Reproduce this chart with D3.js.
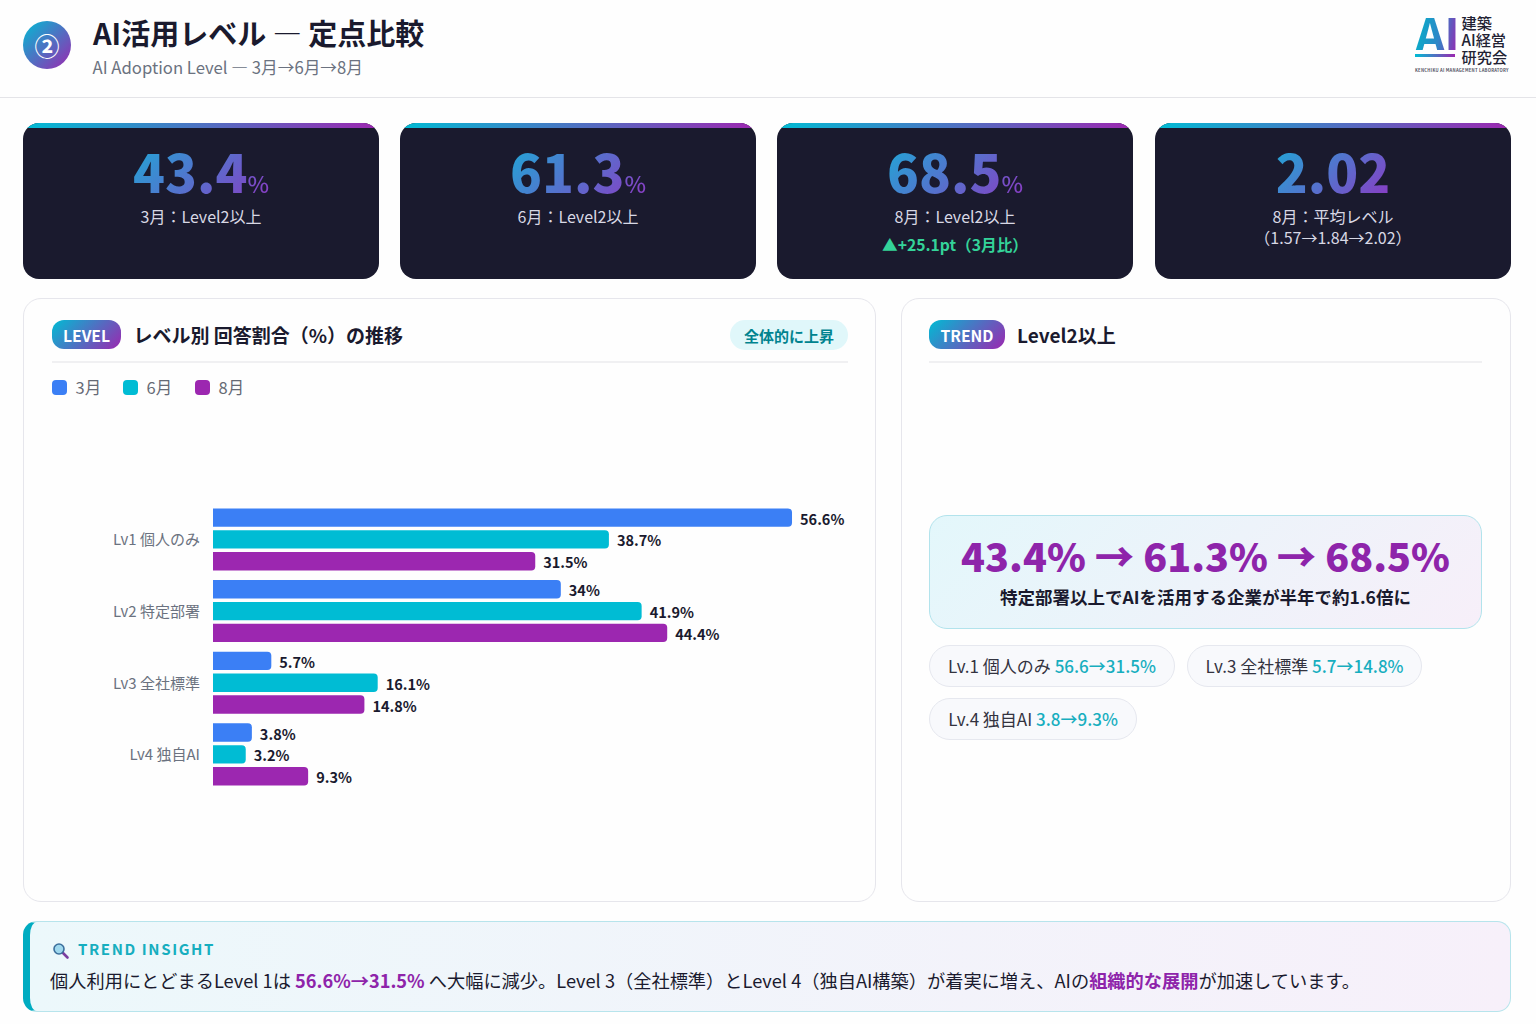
<!DOCTYPE html>
<html lang="ja">
<head>
<meta charset="utf-8">
<title>AI活用レベル</title>
<script src="https://cdn.jsdelivr.net/npm/d3@7"></script>
<style>
  html, body { margin: 0; padding: 0; background: #fefefe; }
  body { width: 1536px; height: 1024px; position: relative; overflow: hidden;
         font-family: "Noto Sans CJK JP", "Noto Sans", sans-serif; color: #1a1a2e; }
  .abs { position: absolute; white-space: nowrap; }
  .ctr { transform: translate(-50%, -50%); line-height: 1; }
  .mid { transform: translateY(-50%); line-height: 1; }

  /* header */
  #headerLine { position: absolute; left: 0; top: 97px; width: 1536px; height: 1px; background: #e4e4e8; }
  #badge { left: 23px; top: 21px; width: 48px; height: 48px; border-radius: 50%;
           background: linear-gradient(135deg, #00bcd4, #9c27b0); color: #fff;
           font-size: 25px; font-weight: 700; line-height: 48px; text-align: center; }
  #title { left: 93px; top: 32px; font-size: 29px; font-weight: 700; color: #1a1a2e; }
  #subtitle { left: 92.5px; top: 66.5px; font-size: 16.7px; color: #6b7280; }

  /* kpi cards */
  .card { position: absolute; top: 123px; height: 156px; border-radius: 16px; background: #1a1a2e; overflow: hidden; }
  .card .strip { position: absolute; left: 0; top: 0; right: 0; height: 5px; background: linear-gradient(90deg, #00bcd4, #9c27b0); }
  .card .num { position: absolute; left: 0; right: 0; top: 20px; text-align: center; line-height: 54px; height: 54px; font-size: 52.5px; font-weight: 900; }
  .card .num span { display: inline-block; line-height: 54px; height: 54px; background: linear-gradient(135deg, #1fa8d6, #8a3cc4); -webkit-background-clip: text; background-clip: text; color: transparent; }
  .card .num small { font-size: 23px; font-weight: 500; }
  .card .lab { position: absolute; left: 0; right: 0; text-align: center; font-size: 16px; line-height: 21px; color: #d8d8e4; }
  .card .up { position: absolute; left: 0; right: 0; top: 111px; text-align: center; font-size: 15.7px; line-height: 21px; font-weight: 700; color: #34d399; }

  /* panels */
  .panel { position: absolute; top: 298px; height: 604px; box-sizing: border-box; border: 1px solid #e6e6ec; border-radius: 18px; background: #fefefe; }
  .rule { position: absolute; top: 361px; height: 2px; background: #f0f0f2; }
  .tag { position: absolute; top: 320px; height: 29px; border-radius: 12px; background: linear-gradient(135deg, #00bcd4, #9c27b0);
         color: #fff; font-size: 15.7px; font-weight: 700; line-height: 31px; text-align: center; }
  .panelTitle { font-size: 19px; font-weight: 700; color: #1a1a2e; }
  #riseBadge { left: 730px; top: 320px; width: 118px; height: 30px; border-radius: 15px; background: #e0f7fa; color: #00838f;
               font-size: 15px; font-weight: 700; line-height: 32px; text-align: center; }

  /* right panel */
  #bigBox { left: 929px; top: 515px; width: 553px; height: 114px; box-sizing: border-box; border: 1px solid #b2e3ec; border-radius: 18px;
            background: linear-gradient(135deg, #e3f7fb, #f7eff9); }
  #bigText { left: 1205.5px; top: 555px; font-size: 39.4px; font-weight: 900; color: #8e24aa; }
  #bigSub { left: 1205.5px; top: 597px; font-size: 17.5px; font-weight: 700; color: #1a1a2e; }
  .chip { position: absolute; height: 42px; box-sizing: border-box; border: 1px solid #e6e8ef; border-radius: 21px; background: #f8f9fc;
          font-size: 17px; line-height: 39px; color: #33333f; text-align: center; white-space: nowrap; }
  .chip b { font-weight: 500; color: #17aebf; }

  /* insight */
  #insight { left: 23px; top: 921px; width: 1488px; height: 91px; box-sizing: border-box; border: 1px solid #b7e4ec; border-left: 7px solid #00acc1;
             border-radius: 14px; background: linear-gradient(90deg, #ecf8fb, #f7f0fa); }
  #insightHead { left: 78px; top: 947.5px; font-size: 15px; font-weight: 700; letter-spacing: 1.6px; color: #17aebf; }
  #insightBody { left: 50px; top: 980px; font-size: 18.23px; color: #1a1a2e; }
  #insightBody b { font-weight: 700; color: #8e24aa; }

  /* logo */
  #logoAI { left: 1415px; top: 33px; font-size: 47px; font-weight: 700; letter-spacing: -1px; height: 34px; line-height: 34px;
            background: linear-gradient(100deg, #00b4c8, #2f86c8 55%, #a020b0); -webkit-background-clip: text; background-clip: text; color: transparent; }
  #logoBar { position: absolute; left: 1415px; top: 54px; width: 40px; height: 2.5px; background: linear-gradient(90deg, #00bcd4, #9c27b0); }
  .logoLine { left: 1461.5px; font-size: 15.2px; font-weight: 500; color: #222233; }
  #logoSmall { left: 1415px; top: 70px; font-size: 4.2px; font-weight: 700; letter-spacing: .25px; color: #555566; }

  #chart { position: absolute; left: 0; top: 0; }
  #chart .tick text { font-family: "Noto Sans CJK JP", sans-serif; font-size: 15px; fill: #6b7280; }
  #chart .value { font-family: "Noto Sans CJK JP", sans-serif; font-size: 14.5px; font-weight: 700; fill: #1a1a2e; }
</style>
</head>
<body>
<div id="headerLine"></div>
<div id="badge" class="abs">②</div>
<div id="title" class="abs mid">AI活用レベル — 定点比較</div>
<div id="subtitle" class="abs mid">AI Adoption Level — 3月→6月→8月</div>

<div id="logoAI" class="abs mid">AI</div>
<div id="logoBar"></div>
<div class="abs mid logoLine" style="top:23px">建築</div>
<div class="abs mid logoLine" style="top:40px">AI経営</div>
<div class="abs mid logoLine" style="top:57px">研究会</div>
<div id="logoSmall" class="abs mid">KENCHIKU AI MANAGEMENT LABORATORY</div>

<div id="cards"></div>

<div class="panel" style="left:23px;width:853px"></div>
<div class="panel" style="left:901px;width:610px"></div>
<div class="rule" style="left:52px;width:796px"></div>
<div class="rule" style="left:929px;width:553px"></div>
<div class="tag" style="left:52px;width:69px">LEVEL</div>
<div class="abs mid panelTitle" style="left:133.5px;top:333.5px">レベル別 回答割合（%）の推移</div>
<div id="riseBadge" class="abs">全体的に上昇</div>
<div class="tag" style="left:929px;width:76px">TREND</div>
<div class="abs mid panelTitle" style="left:1017px;top:333.5px">Level2以上</div>

<svg id="chart" width="1536" height="1024"></svg>

<div id="bigBox" class="abs"></div>
<div id="bigText" class="abs ctr">43.4% → 61.3% → 68.5%</div>
<div id="bigSub" class="abs ctr">特定部署以上でAIを活用する企業が半年で約1.6倍に</div>
<div id="chips"></div>

<div id="insight" class="abs"></div>
<svg class="abs" style="left:52px;top:942px" width="18" height="18" viewBox="0 0 18 18">
  <line x1="10.5" y1="10.5" x2="15.5" y2="15.5" stroke="#7b3fa0" stroke-width="2.6" stroke-linecap="round"/>
  <circle cx="7" cy="7" r="5" fill="#9fd8ee" stroke="#3c6f9c" stroke-width="1.6"/>
</svg>
<div id="insightHead" class="abs mid">TREND INSIGHT</div>
<div id="insightBody" class="abs mid">個人利用にとどまるLevel 1は <b>56.6%→31.5%</b> へ大幅に減少。Level 3（全社標準）とLevel 4（独自AI構築）が着実に増え、AIの<b>組織的な展開</b>が加速しています。</div>

<script>
// chart data
const categories = ['Lv1 個人のみ', 'Lv2 特定部署', 'Lv3 全社標準', 'Lv4 独自AI'];
const months = ['3月', '6月', '8月'];
const march = [56.6, 34, 5.7, 3.8];
const june = [38.7, 41.9, 16.1, 3.2];
const august = [31.5, 44.4, 14.8, 9.3];
const monthColors = ['#3b7ff5', '#00bcd4', '#9c27b0'];

// kpi cards
const kpiValues = ['43.4', '61.3', '68.5', '2.02'];
const kpiUnits = ['%', '%', '%', ''];
const kpiLabels = [['3月：Level2以上'], ['6月：Level2以上'], ['8月：Level2以上'], ['8月：平均レベル', '（1.57→1.84→2.02）']];
const kpiLefts = [23, 400, 777, 1155];
const kpiNote = '▲+25.1pt（3月比）';

// chips under the big number
const chipLabels = ['Lv.1 個人のみ', 'Lv.3 全社標準', 'Lv.4 独自AI'];
const chipValues = ['56.6→31.5%', '5.7→14.8%', '3.8→9.3%'];
const chipBoxes = [[929, 645, 246], [1187, 645, 235], [929, 698, 208]];

// cards
const cards = d3.select('#cards').selectAll('.card')
    .data(kpiValues)
    .enter().append('div')
    .attr('class', 'card')
    .style('left', (d, i) => kpiLefts[i] + 'px')
    .style('width', '356px');
cards.append('div').attr('class', 'strip');
cards.append('div').attr('class', 'num')
    .html((d, i) => `<span>${d}<small>${kpiUnits[i]}</small></span>`);
cards.append('div').attr('class', 'lab')
    .style('top', '83px')
    .html((d, i) => kpiLabels[i].join('<br>'));
cards.filter((d, i) => i === 2).append('div').attr('class', 'up').text(kpiNote);

// chips
d3.select('#chips').selectAll('.chip')
    .data(chipLabels)
    .enter().append('div')
    .attr('class', 'chip')
    .style('left', (d, i) => chipBoxes[i][0] + 'px')
    .style('top', (d, i) => chipBoxes[i][1] + 'px')
    .style('width', (d, i) => chipBoxes[i][2] + 'px')
    .html((d, i) => `${d} <b>${chipValues[i]}</b>`);

// bar chart
const svg = d3.select('#chart');
const series = [march, june, august];

const x = d3.scaleLinear().domain([0, 60]).range([213, 213 + 613.8]);
const y = d3.scaleBand().domain(categories).range([503.6, 790.2]).paddingInner(0.134).paddingOuter(0.067);
const yInner = d3.scaleBand().domain(months).range([0, y.bandwidth()]).paddingInner(0.157);

// legend
const legendX = [52, 123, 195];
const legend = svg.append('g');
months.forEach((m, i) => {
    legend.append('rect').attr('x', legendX[i]).attr('y', 380).attr('width', 15).attr('height', 15).attr('rx', 4).attr('fill', monthColors[i]);
    legend.append('text').attr('x', legendX[i] + 23.5).attr('y', 394)
        .attr('font-family', '"Noto Sans CJK JP", sans-serif').attr('font-size', 16.5).attr('fill', '#666a75').text(m);
});

const yAxis = d3.axisLeft(y).tickSize(0).tickPadding(13);
const axisG = svg.append('g').attr('transform', 'translate(213,1)').call(yAxis);
axisG.select('.domain').remove();

// square on the left, rounded on the right
function barPath(x0, x1, top, h) {
    const r = 4;
    return `M${x0},${top}H${x1 - r}Q${x1},${top} ${x1},${top + r}V${top + h - r}Q${x1},${top + h} ${x1 - r},${top + h}H${x0}Z`;
}

categories.forEach((cat, c) => {
    const g = svg.append('g');
    months.forEach((m, s) => {
        const v = series[s][c];
        const top = y(cat) + yInner(m);
        g.append('path')
            .attr('d', barPath(x(0), x(v), top, yInner.bandwidth()))
            .attr('fill', monthColors[s]);
        g.append('text')
            .attr('class', 'value')
            .attr('x', x(v) + 8)
            .attr('y', top + yInner.bandwidth() / 2 + 7)
            .text(v + '%');
    });
});
</script>
</body>
</html>
